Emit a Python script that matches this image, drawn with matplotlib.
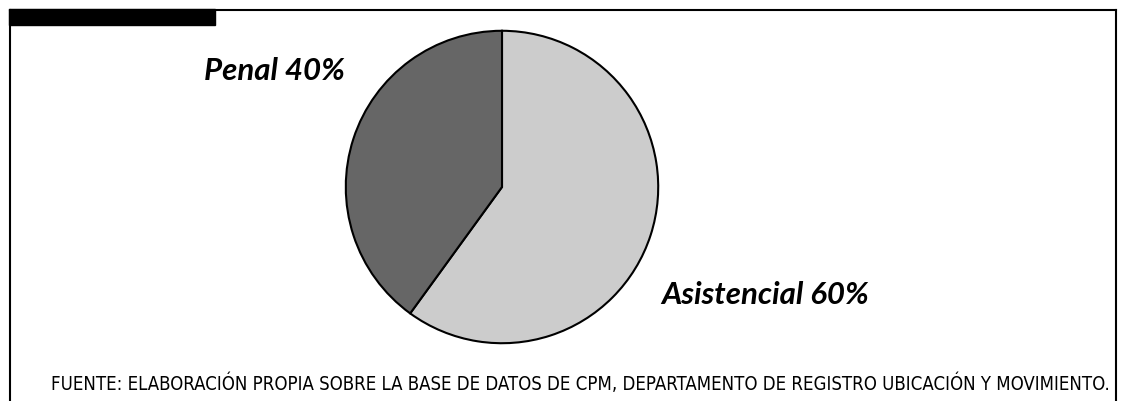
import matplotlib.pyplot as plt
from matplotlib.patches import Rectangle
from matplotlib.lines import Line2D

# data
labels = ["Asistencial", "Penal"]
shares = [60, 40]
colors = ["#cccccc", "#666666"]
source = "FUENTE: ELABORACIÓN PROPIA SOBRE LA BASE DE DATOS DE CPM, DEPARTAMENTO DE REGISTRO UBICACIÓN Y MOVIMIENTO."

W, H = 1125, 401
fig = plt.figure(figsize=(W / 100, H / 100), dpi=100)

def fx(x):
    return x / W

def fy(y):
    return 1 - y / H

# frame: top rule, sides, black tab top-left
fig.add_artist(Line2D([fx(10), fx(1116)], [fy(10), fy(10)], color="black", lw=1.5))
fig.add_artist(Line2D([fx(10), fx(10)], [fy(10), fy(401)], color="black", lw=1.5))
fig.add_artist(Line2D([fx(1115.5), fx(1115.5)], [fy(10), fy(401)], color="black", lw=1.5))
fig.add_artist(Rectangle((fx(9), fy(25)), fx(215) - fx(9), fy(9) - fy(25),
                         transform=fig.transFigure, color="black"))

# pie
r = 157
cx, cy = 502, 187
ax = fig.add_axes([fx(cx - r), fy(cy + r), fx(2 * r), (2 * r) / H])
ax.pie(shares, colors=colors, startangle=90, counterclock=False,
       wedgeprops=dict(edgecolor="black", linewidth=1.5))
ax.set_xlim(-1.005, 1.005)
ax.set_ylim(-1.005, 1.005)
ax.set_aspect("equal")
ax.axis("off")

lab_font = dict(family=["Lato", "DejaVu Sans"], weight="bold", style="italic", fontsize=22.5)
fig.text(fx(204), fy(80), f"{labels[1]} {shares[1]}%", ha="left", va="baseline", **lab_font)
fig.text(fx(661), fy(304), f"{labels[0]} {shares[0]}%", ha="left", va="baseline", **lab_font)

fig.text(fx(1110), fy(390), source, ha="right", va="baseline",
         family=["DejaVu Sans"], stretch="condensed", fontsize=13.35)

fig.savefig("out.png", dpi=100)
